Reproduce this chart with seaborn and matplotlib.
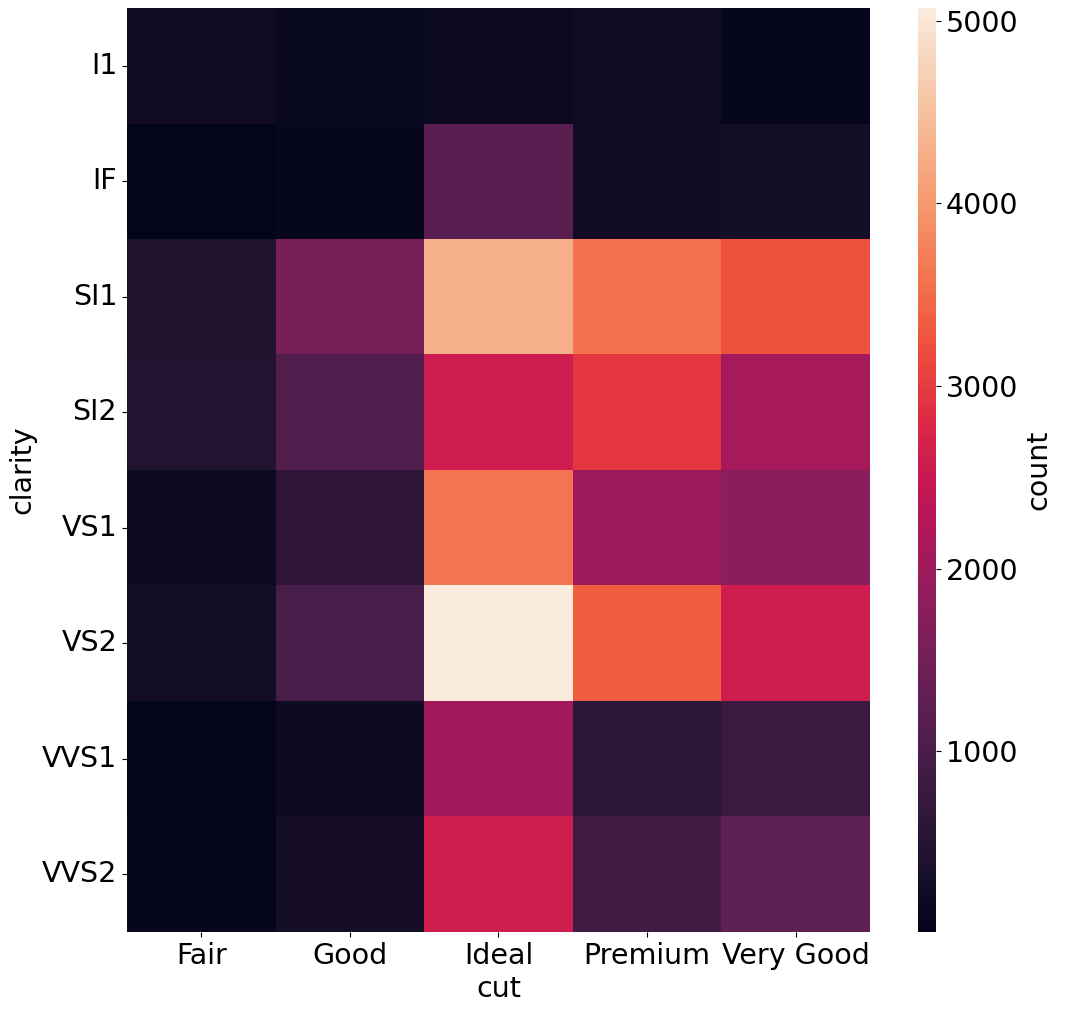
import pandas as pd
import numpy as np
import matplotlib.pyplot as plt
import seaborn as sns

# counts of diamonds by clarity (rows) and cut (columns)
clarity = ['I1', 'IF', 'SI1', 'SI2', 'VS1', 'VS2', 'VVS1', 'VVS2']
cuts = ['Fair', 'Good', 'Ideal', 'Premium', 'Very Good']

fair = [210, 9, 408, 466, 170, 261, 17, 69]
good = [96, 71, 1560, 1081, 648, 978, 186, 286]
ideal = [146, 1212, 4282, 2598, 3589, 5071, 2047, 2606]
premium = [205, 230, 3575, 2949, 1989, 3357, 616, 870]
very_good = [84, 268, 3240, 2100, 1775, 2591, 789, 1235]

df = pd.DataFrame({'Fair': fair, 'Good': good, 'Ideal': ideal,
                   'Premium': premium, 'Very Good': very_good}, index=clarity)
df.index.name = 'clarity'
df.columns.name = 'cut'

plt.rcParams['font.size'] = 20.5

fig = plt.figure(figsize=(10.88, 10.14), dpi=100)
ax = fig.add_axes([0.1167, 0.0809, 0.6829, 0.9112])
cax = fig.add_axes([0.8438, 0.0809, 0.0165, 0.9112])

sns.heatmap(df, ax=ax, cbar_ax=cax, cbar_kws={'label': 'count'})
ax.tick_params(axis='y', rotation=0)

fig.savefig('out.png')
